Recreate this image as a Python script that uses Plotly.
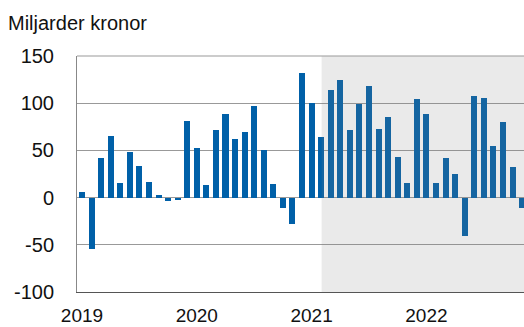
import plotly.graph_objects as go

# Monthly balance, billions SEK, Jan 2019 - Nov 2022
months = [f"{y}-{m:02d}" for y in range(2019, 2023) for m in range(1, 13)][:47]
values = [
    6, -54, 42, 65, 15, 48, 33, 17, 3, -3.5, -2.5, 81,
    53, 13, 72, 89, 62, 70, 97, 50, 14, -10.5, -28, 132,
    100, 64, 114, 125, 72, 99, 118, 73, 85, 43, 15, 104,
    89, 15, 42, 25, -41, 108, 105, 55, 80, 32, -10.5,
]
year_ticks = ["2019-01", "2020-01", "2021-01", "2022-01"]
year_labels = ["2019", "2020", "2021", "2022"]
y_ticks = [150, 100, 50, 0, -50, -100]
y_labels = ["150", "100", "50", "0", "-50", "-100"]

BLUE = "#0060a8"
FONT = "Liberation Sans"

fig = go.Figure()
fig.add_trace(go.Bar(
    x=months, y=values, marker=dict(color=BLUE, line=dict(width=0)),
    width=0.63, showlegend=False,
))

# shaded period from Feb 2021 onwards
fig.add_shape(
    type="rect", xref="x", yref="paper",
    x0=25.05, x1=47, y0=0, y1=1,
    fillcolor="rgba(130,130,130,0.165)", line=dict(width=0), layer="above",
)
# top frame line
fig.add_shape(
    type="line", xref="paper", yref="paper",
    x0=0, x1=1, y0=1, y1=1, line=dict(color="#999999", width=1),
)

fig.update_layout(
    width=524, height=327,
    margin=dict(l=77, r=0, t=56, b=35),
    paper_bgcolor="white", plot_bgcolor="white",
    font=dict(family=FONT, size=20, color="#111111"),
    bargap=0,
    title=dict(
        text="Miljarder kronor", xref="container", yref="container",
        x=8 / 524, xanchor="left", y=1 - 23 / 327, yanchor="middle",
        font=dict(family=FONT, size=20, color="#111111"),
    ),
    xaxis=dict(
        type="category", range=[-0.52, 46.2], automargin=False,
        tickvals=year_ticks, ticktext=year_labels,
        showgrid=False, showline=True, linecolor="#555555", linewidth=1,
        ticks="", ticklabelstandoff=6, tickfont=dict(size=19),
    ),
    yaxis=dict(
        range=[-100, 150], tickvals=y_ticks, ticktext=y_labels, automargin=False,
        showgrid=True, gridcolor="#999999", gridwidth=1,
        zeroline=True, zerolinecolor="#999999", zerolinewidth=1,
        showline=True, linecolor="#888888", linewidth=1,
        ticks="", ticklabelstandoff=18, tickfont=dict(size=20),
    ),
)

fig.write_html("out.html")
